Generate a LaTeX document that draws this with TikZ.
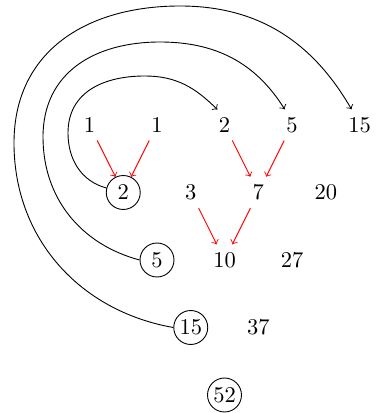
\documentclass[tikz,border=0pt]{standalone}
\begin{document}
\begin{tikzpicture}[x=0.4444pt,y=0.4444pt,
  num/.style={inner sep=0.3333em},
  circ/.style={draw,circle,inner sep=1pt,minimum size=15.1pt},
  redarrow/.style={->,red},
  looparrow/.style={->}]
\useasboundingbox (0,0) rectangle (380,413);
% row 1
\node[num] (a1) at (89.5,288) {1};
\node[num] (a2) at (157,288) {1};
\node[num] (a3) at (224.5,288) {2};
\node[num] (a4) at (292,288) {5};
\node[num] (a5) at (359.5,288) {15};
% row 2
\node[circ] (b1) at (123.25,220.5) {2};
\node[num] (b2) at (190.75,220.5) {3};
\node[num] (b3) at (258.25,220.5) {7};
\node[num] (b4) at (325.75,220.5) {20};
% row 3
\node[circ] (c1) at (157,153) {5};
\node[num] (c2) at (224.5,153) {10};
\node[num] (c3) at (292,153) {27};
% row 4
\node[circ] (d1) at (190.75,85.5) {15};
\node[num] (d2) at (258.25,85.5) {37};
% row 5
\node[circ] (e1) at (224.5,18) {52};
% red arrows
\draw[redarrow] (a1) -- (b1);
\draw[redarrow] (a2) -- (b1);
\draw[redarrow] (a3) -- (b3);
\draw[redarrow] (a4) -- (b3);
\draw[redarrow] (b2) -- (c2);
\draw[redarrow] (b3) -- (c2);
% waypoints
\coordinate (il) at (68,280);
\coordinate (it) at (145,337);
\coordinate (ml) at (43,276);
\coordinate (mt) at (160,371);
\coordinate (ol) at (14,270);
\coordinate (ot) at (180,407);
% loops
\draw[looparrow] (b1.165) to[out=165,in=-90] (il)
  to[out=90,in=180,looseness=1.1] (it)
  to[out=0,in=135] (a3.115);
\draw[looparrow] (c1.west) to[out=165,in=-90] (ml)
  to[out=90,in=180,looseness=1.1] (mt)
  to[out=0,in=122] (a4.115);
\draw[looparrow] (d1.west) to[out=170,in=-90] (ol)
  to[out=90,in=180,looseness=1.1] (ot)
  to[out=0,in=120] (a5.117);
\end{tikzpicture}
\end{document}
